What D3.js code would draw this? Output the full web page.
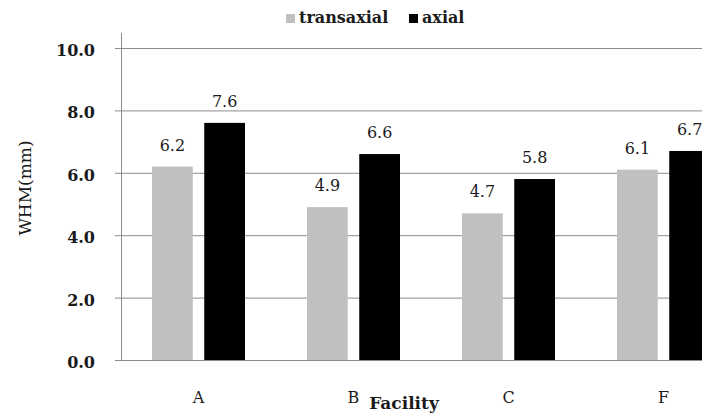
<!DOCTYPE html>
<html>
<head>
<meta charset="utf-8">
<script src="https://cdn.jsdelivr.net/npm/d3@7"></script>
<style>
  body { margin: 0; background: #fff; }
  svg text { font-family: "DejaVu Serif"; }
</style>
</head>
<body>
<div id="chart"></div>
<script>
const width = 702;
const height = 414;

const facilities = ["A", "B", "C", "F"];
const seriesNames = ["transaxial", "axial"];
const transaxial = [6.2, 4.9, 4.7, 6.1];
const axial = [7.6, 6.6, 5.8, 6.7];
const yTicks = [0, 2, 4, 6, 8, 10];

const colors = { transaxial: "#c0c0c0", axial: "#000000" };

const svg = d3
  .select("#chart")
  .append("svg")
  .attr("width", width)
  .attr("height", height);

// plot area runs past the right edge (chart is cropped)
const x0 = d3.scaleBand().domain(facilities).range([121, 741]);
const x1 = d3
  .scaleBand()
  .domain(seriesNames)
  .range([31, 124])
  .paddingInner(0.22);
const y = d3.scaleLinear().domain([0, 10]).range([360, 48]);

// gridlines
svg
  .append("g")
  .selectAll("line")
  .data(yTicks)
  .enter()
  .append("line")
  .attr("x1", 115)
  .attr("x2", width)
  .attr("y1", (d) => y(d) + 0.5)
  .attr("y2", (d) => y(d) + 0.5)
  .attr("stroke", "#8c8c8c")
  .attr("stroke-width", 1);

// y axis line
svg
  .append("line")
  .attr("x1", 121.5)
  .attr("x2", 121.5)
  .attr("y1", y(10) - 15)
  .attr("y2", y(0))
  .attr("stroke", "#8c8c8c");

// y tick labels
svg
  .append("g")
  .selectAll("text")
  .data(yTicks)
  .enter()
  .append("text")
  .attr("x", 95)
  .attr("y", (d) => y(d) + 8)
  .attr("text-anchor", "end")
  .attr("font-size", 16)
  .attr("font-weight", "bold")
  .attr("fill", "#1a1a1a")
  .text((d) => d.toFixed(1));

const rows = facilities.map((f, i) => ({
  facility: f,
  values: [
    { key: "transaxial", value: transaxial[i] },
    { key: "axial", value: axial[i] },
  ],
}));

const groups = svg
  .selectAll("g.cat")
  .data(rows)
  .enter()
  .append("g")
  .attr("class", "cat")
  .attr("transform", (d) => `translate(${x0(d.facility)},0)`);

groups
  .selectAll("rect")
  .data((d) => d.values)
  .enter()
  .append("rect")
  .attr("x", (d) => x1(d.key))
  .attr("y", (d) => y(d.value))
  .attr("width", x1.bandwidth())
  .attr("height", (d) => y(0) - y(d.value))
  .attr("fill", (d) => colors[d.key]);

groups
  .selectAll("text.val")
  .data((d) => d.values)
  .enter()
  .append("text")
  .attr("class", "val")
  .attr("x", (d) => x1(d.key) + x1.bandwidth() / 2)
  .attr("y", (d) => y(d.value) - 16)
  .attr("text-anchor", "middle")
  .attr("font-size", 16)
  .attr("fill", "#1a1a1a")
  .text((d) => d.value.toFixed(1));

// category labels
svg
  .append("g")
  .selectAll("text")
  .data(facilities)
  .enter()
  .append("text")
  .attr("x", (d) => x0(d) + x0.bandwidth() / 2)
  .attr("y", 403)
  .attr("text-anchor", "middle")
  .attr("font-size", 16)
  .attr("fill", "#1a1a1a")
  .text((d) => d);

// x axis title
svg
  .append("text")
  .attr("x", 404)
  .attr("y", 409)
  .attr("text-anchor", "middle")
  .attr("font-size", 17)
  .attr("font-weight", "bold")
  .attr("fill", "#1a1a1a")
  .text("Facility");

// y axis title
svg
  .append("text")
  .attr("transform", "translate(31,188) rotate(-90)")
  .attr("text-anchor", "middle")
  .attr("font-size", 17)
  .attr("fill", "#1a1a1a")
  .text("WHM(mm)");

// legend
const legendItems = [
  { key: "transaxial", x: 286 },
  { key: "axial", x: 409 },
];
const legend = svg
  .append("g")
  .selectAll("g")
  .data(legendItems)
  .enter()
  .append("g")
  .attr("transform", (d) => `translate(${d.x},13)`);
legend
  .append("rect")
  .attr("y", 1)
  .attr("width", 9)
  .attr("height", 9)
  .attr("fill", (d) => colors[d.key]);
legend
  .append("text")
  .attr("x", 13)
  .attr("y", 10)
  .attr("font-size", 16)
  .attr("font-weight", "bold")
  .attr("fill", "#1a1a1a")
  .text((d) => d.key);
</script>
</body>
</html>
